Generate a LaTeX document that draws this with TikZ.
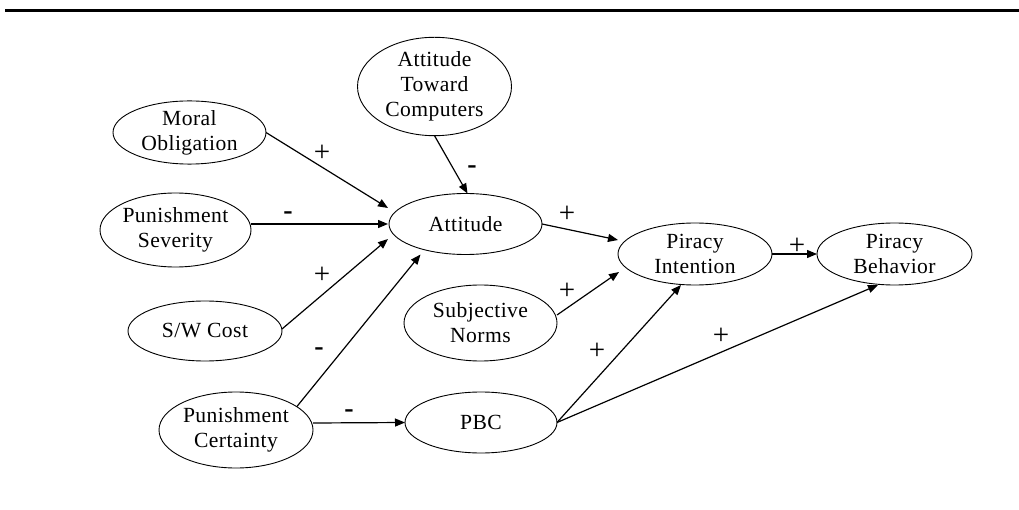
\documentclass[tikz,border=0pt]{standalone}
\usepackage{fontspec}
\setmainfont{Liberation Serif}[LetterSpace=2]
\usetikzlibrary{shapes.geometric,arrows.meta,calc}
\begin{document}
\begin{tikzpicture}[x=1pt,y=-1pt,
  var/.style={draw, ellipse, line width=0.9pt, inner sep=0pt, outer sep=0pt, align=center,
    font=\fontsize{21.6}{25}\selectfont},
  conn/.style={line width=1.2pt, -{Triangle[length=10pt,width=8pt]}},
  plus/.style={font=\fontsize{29}{30}\selectfont, inner sep=0pt},
  minus/.style={font=\fontsize{28}{30}\selectfont\bfseries, inner sep=0pt}]
\useasboundingbox (0,0) rectangle (1019,510);
\draw[line width=3pt] (5,11) -- (1019,11);

\node[var, minimum width=154pt, minimum height=91pt] (atc) at (434.5,86.5) {Attitude\\Toward\\Computers};
\node[var, minimum width=153pt, minimum height=61pt] (mo) at (189.5,132.5) {Moral\\Obligation};
\node[var, minimum width=151pt, minimum height=74pt] (ps) at (175.5,230) {Punishment\\Severity};
\node[var, minimum width=154pt, minimum height=60pt] (sw) at (205,331) {S/W Cost};
\node[var, minimum width=154pt, minimum height=76pt] (pc) at (236,430) {Punishment\\Certainty};
\node[var, minimum width=153pt, minimum height=61pt] (att) at (465.5,224) {Attitude};
\node[var, minimum width=153pt, minimum height=76pt] (sn) at (480.5,323) {Subjective\\Norms};
\node[var, minimum width=152pt, minimum height=61pt] (pbc) at (481,422.5) {PBC};
\node[var, minimum width=154pt, minimum height=62pt] (pi) at (695,254) {Piracy\\Intention};
\node[var, minimum width=155pt, minimum height=62pt] (pb) at (894.5,254) {Piracy\\Behavior};

\draw[conn] (mo.east) -- ($(att.west)+(-1,-16)$);
\draw[conn] ($(ps.east)+(0,-6)$) -- ($(att.west)+(-1,0)$);
\draw[conn] ($(sw.east)+(0,-2)$) -- ($(att.west)+(-1,15)$);
\draw[conn] (pc.21) -- ($(att.south)+(-45,0)$);
\draw[conn] (atc.south) -- ($(att.north)+(2,0)$);
\draw[conn] ($(pc.east)+(0,-7)$) -- (pbc.west);
\draw[conn] (att.east) -- ($(pi.west)+(0,-14)$);
\draw[conn] ($(sn.east)+(0,-8)$) -- ($(pi.west)+(1,18)$);
\draw[conn] (pbc.east) -- ($(pi.south)+(-14,0)$);
\draw[conn] (pbc.east) -- ($(pb.south)+(-16.5,0)$);
\draw[conn] (pi.east) -- (pb.west);

\node[plus] (l1) at (322,153) {+};
\node[minus] (l2) at (288,216) {-};
\node[plus] (l3) at (322,275) {+};
\node[minus] (l4) at (319,352) {-};
\node[minus] (l5) at (349,414) {-};
\node[minus] (l6) at (472,170) {-};
\node[plus] (l7) at (567,214) {+};
\node[plus] (l8) at (567,291) {+};
\node[plus] (l9) at (597,351) {+};
\node[plus] (l10) at (721,336) {+};
\node[plus] (l11) at (797,246) {+};
\end{tikzpicture}
\end{document}
